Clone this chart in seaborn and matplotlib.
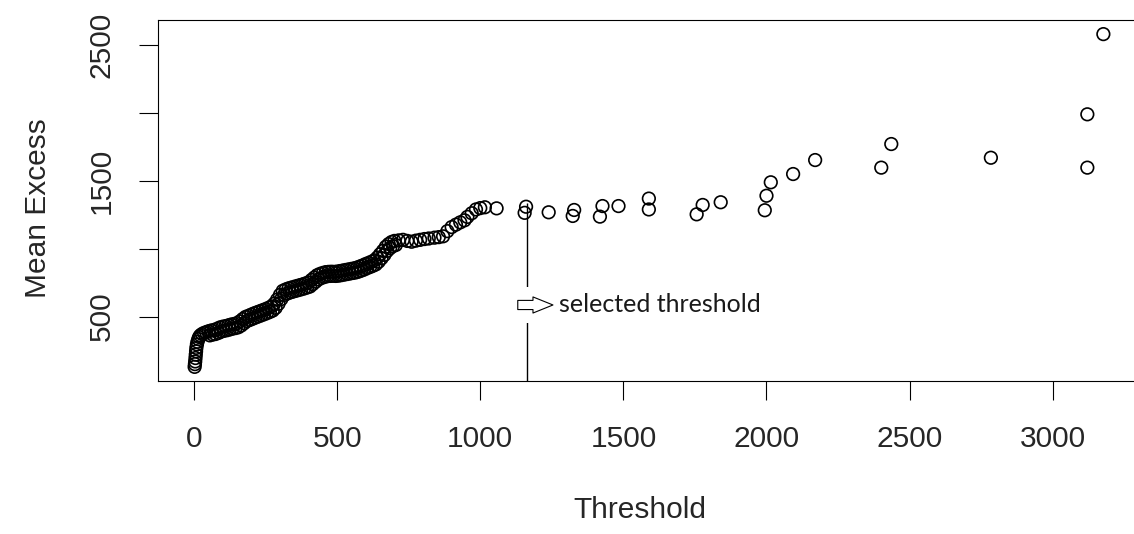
import matplotlib
matplotlib.use('Agg')
import matplotlib.pyplot as plt
from matplotlib.patches import Rectangle
import seaborn as sns
import pandas as pd

# mean excess values: dense part near the origin
x_dense = [2, 3, 4, 5, 6, 7, 8, 10, 12, 15, 18, 22, 28, 35, 42,
           50, 60, 70, 80, 90, 100, 110, 120, 130, 140, 150, 160, 170, 180, 190,
           200, 210, 220, 230, 240, 250, 260, 270, 280, 290, 300, 310, 320, 330,
           340, 350, 360, 370, 380, 390, 400, 410, 420, 430, 440, 450, 460, 470,
           480, 490, 500, 510, 520, 530, 540, 550, 560, 570, 580, 590, 600, 610,
           620, 630, 640, 650, 660, 670, 680, 690, 700,
           715, 730, 745, 760, 775, 790, 805, 820, 840, 855, 870, 885, 900, 915,
           930, 945, 955, 970, 985, 1000, 1016, 1057]
y_dense = [130, 150, 170, 195, 220, 245, 270, 295, 315, 335, 350, 362, 372, 380, 385,
           392, 398, 402, 410, 420, 426, 430, 436, 442, 446, 452, 465, 482, 498, 506,
           515, 524, 532, 540, 548, 556, 565, 575, 595, 625, 660, 690, 700, 708,
           714, 720, 726, 732, 738, 745, 752, 770, 788, 805, 815, 822, 828, 830,
           831, 830, 832, 836, 840, 844, 848, 852, 856, 862, 870, 878, 888, 896,
           905, 915, 935, 960, 985, 1015, 1035, 1050, 1058,
           1062, 1066, 1058, 1052, 1060, 1066, 1072, 1076, 1082, 1086, 1092, 1130, 1160, 1178,
           1195, 1210, 1235, 1262, 1290, 1300, 1306, 1298]

# lower edge of the thick band
x_band = [55, 65, 75, 85, 95, 105, 115, 125, 135, 145, 155, 165, 175, 185, 195,
          205, 215, 225, 235, 245, 255, 265, 275, 285, 295, 305, 315, 325, 335,
          345, 355, 365, 375, 385, 395, 405, 415, 425, 435, 445, 455, 465, 475,
          485, 495, 505, 515, 525, 535, 545, 555, 565, 575, 585, 595, 605, 615,
          625, 635, 645, 655, 665, 675, 685, 695, 705]
y_band = [362, 368, 372, 380, 390, 396, 400, 406, 412, 416, 422, 435, 452, 468, 476,
          485, 494, 502, 510, 518, 526, 535, 545, 565, 595, 630, 660, 670, 678,
          684, 690, 696, 702, 708, 715, 722, 740, 758, 775, 785, 792, 798, 800,
          801, 800, 802, 806, 810, 814, 818, 822, 826, 832, 840, 848, 858, 866,
          875, 885, 905, 930, 955, 985, 1005, 1020, 1028]

# sparse tail
x_tail = [1155, 1160, 1239, 1323, 1328, 1418, 1427, 1483, 1589, 1589, 1756, 1777,
          1840, 1994, 2000, 2015, 2093, 2170, 2401, 2436, 2784, 3121, 3121, 3177]
y_tail = [1265, 1310, 1269, 1242, 1286, 1237, 1315, 1315, 1290, 1370, 1254, 1323,
          1343, 1284, 1391, 1490, 1551, 1654, 1598, 1772, 1671, 1598, 1991, 2582]

threshold = 1163
threshold_top = 1340

df = pd.DataFrame({'Threshold': x_dense + x_band + x_tail,
                   'Mean Excess': y_dense + y_band + y_tail})

sns.set_style('white')
plt.rcParams['font.family'] = ['Liberation Sans', 'DejaVu Sans']

fig = plt.figure(figsize=(11.34, 5.34), dpi=100)
ax = fig.add_axes([158 / 1134, 153.3 / 534, 982 / 1134, 360.7 / 534])

sns.scatterplot(data=df, x='Threshold', y='Mean Excess', ax=ax, marker='o',
                s=82, facecolors='none', edgecolors='black', linewidth=1.2, zorder=3)

ax.set_xlim(-126, 3305)
ax.set_ylim(28, 2686)

ax.vlines(threshold, 28, threshold_top, color='black', linewidth=1.0, zorder=1)
# white box of the pasted label hides part of the line
ax.add_patch(Rectangle((1108, 453), 900, 265, facecolor='white', edgecolor='none', zorder=2))
ax.annotate('', xy=(1254, 586), xytext=(1131, 586),
            arrowprops=dict(arrowstyle='simple,head_length=0.72,head_width=0.58,tail_width=0.33',
                            fc='white', ec='black', lw=0.8, mutation_scale=20,
                            shrinkA=0, shrinkB=0), zorder=4)
ax.text(1275, 586, 'selected threshold', fontsize=18, family=['Lato', 'DejaVu Sans'],
        color='#1a1a1a', va='center', ha='left', zorder=4)

ax.set_xticks([0, 500, 1000, 1500, 2000, 2500, 3000])
ax.set_xticklabels(['0', '500', '1000', '1500', '2000', '2500', '3000'], fontsize=21.5)
ax.set_yticks([500, 1000, 1500, 2000, 2500])
ax.set_yticklabels(['500', '', '1500', '', '2500'], fontsize=21.5, rotation=90, va='center')
ax.tick_params(axis='x', direction='out', length=14, width=0.8, color='black', pad=18,
               bottom=True, top=False)
ax.tick_params(axis='y', direction='out', length=14, width=0.8, color='black', pad=16.5,
               left=True, right=False)

for sp in ax.spines.values():
    sp.set_color('black')
    sp.set_linewidth(0.8)

ax.set_xlabel('Threshold', fontsize=21.5, va='center')
ax.set_ylabel('Mean Excess', fontsize=21.5, va='center')
ax.xaxis.set_label_coords((640 - 158) / 982, (24 - 153.3) / 360.7)
ax.yaxis.set_label_coords((38 - 158) / 982, 0.5 + (360.7 / 2 - (380.7 - 193)) / 360.7)

fig.savefig('out.png', dpi=100)
